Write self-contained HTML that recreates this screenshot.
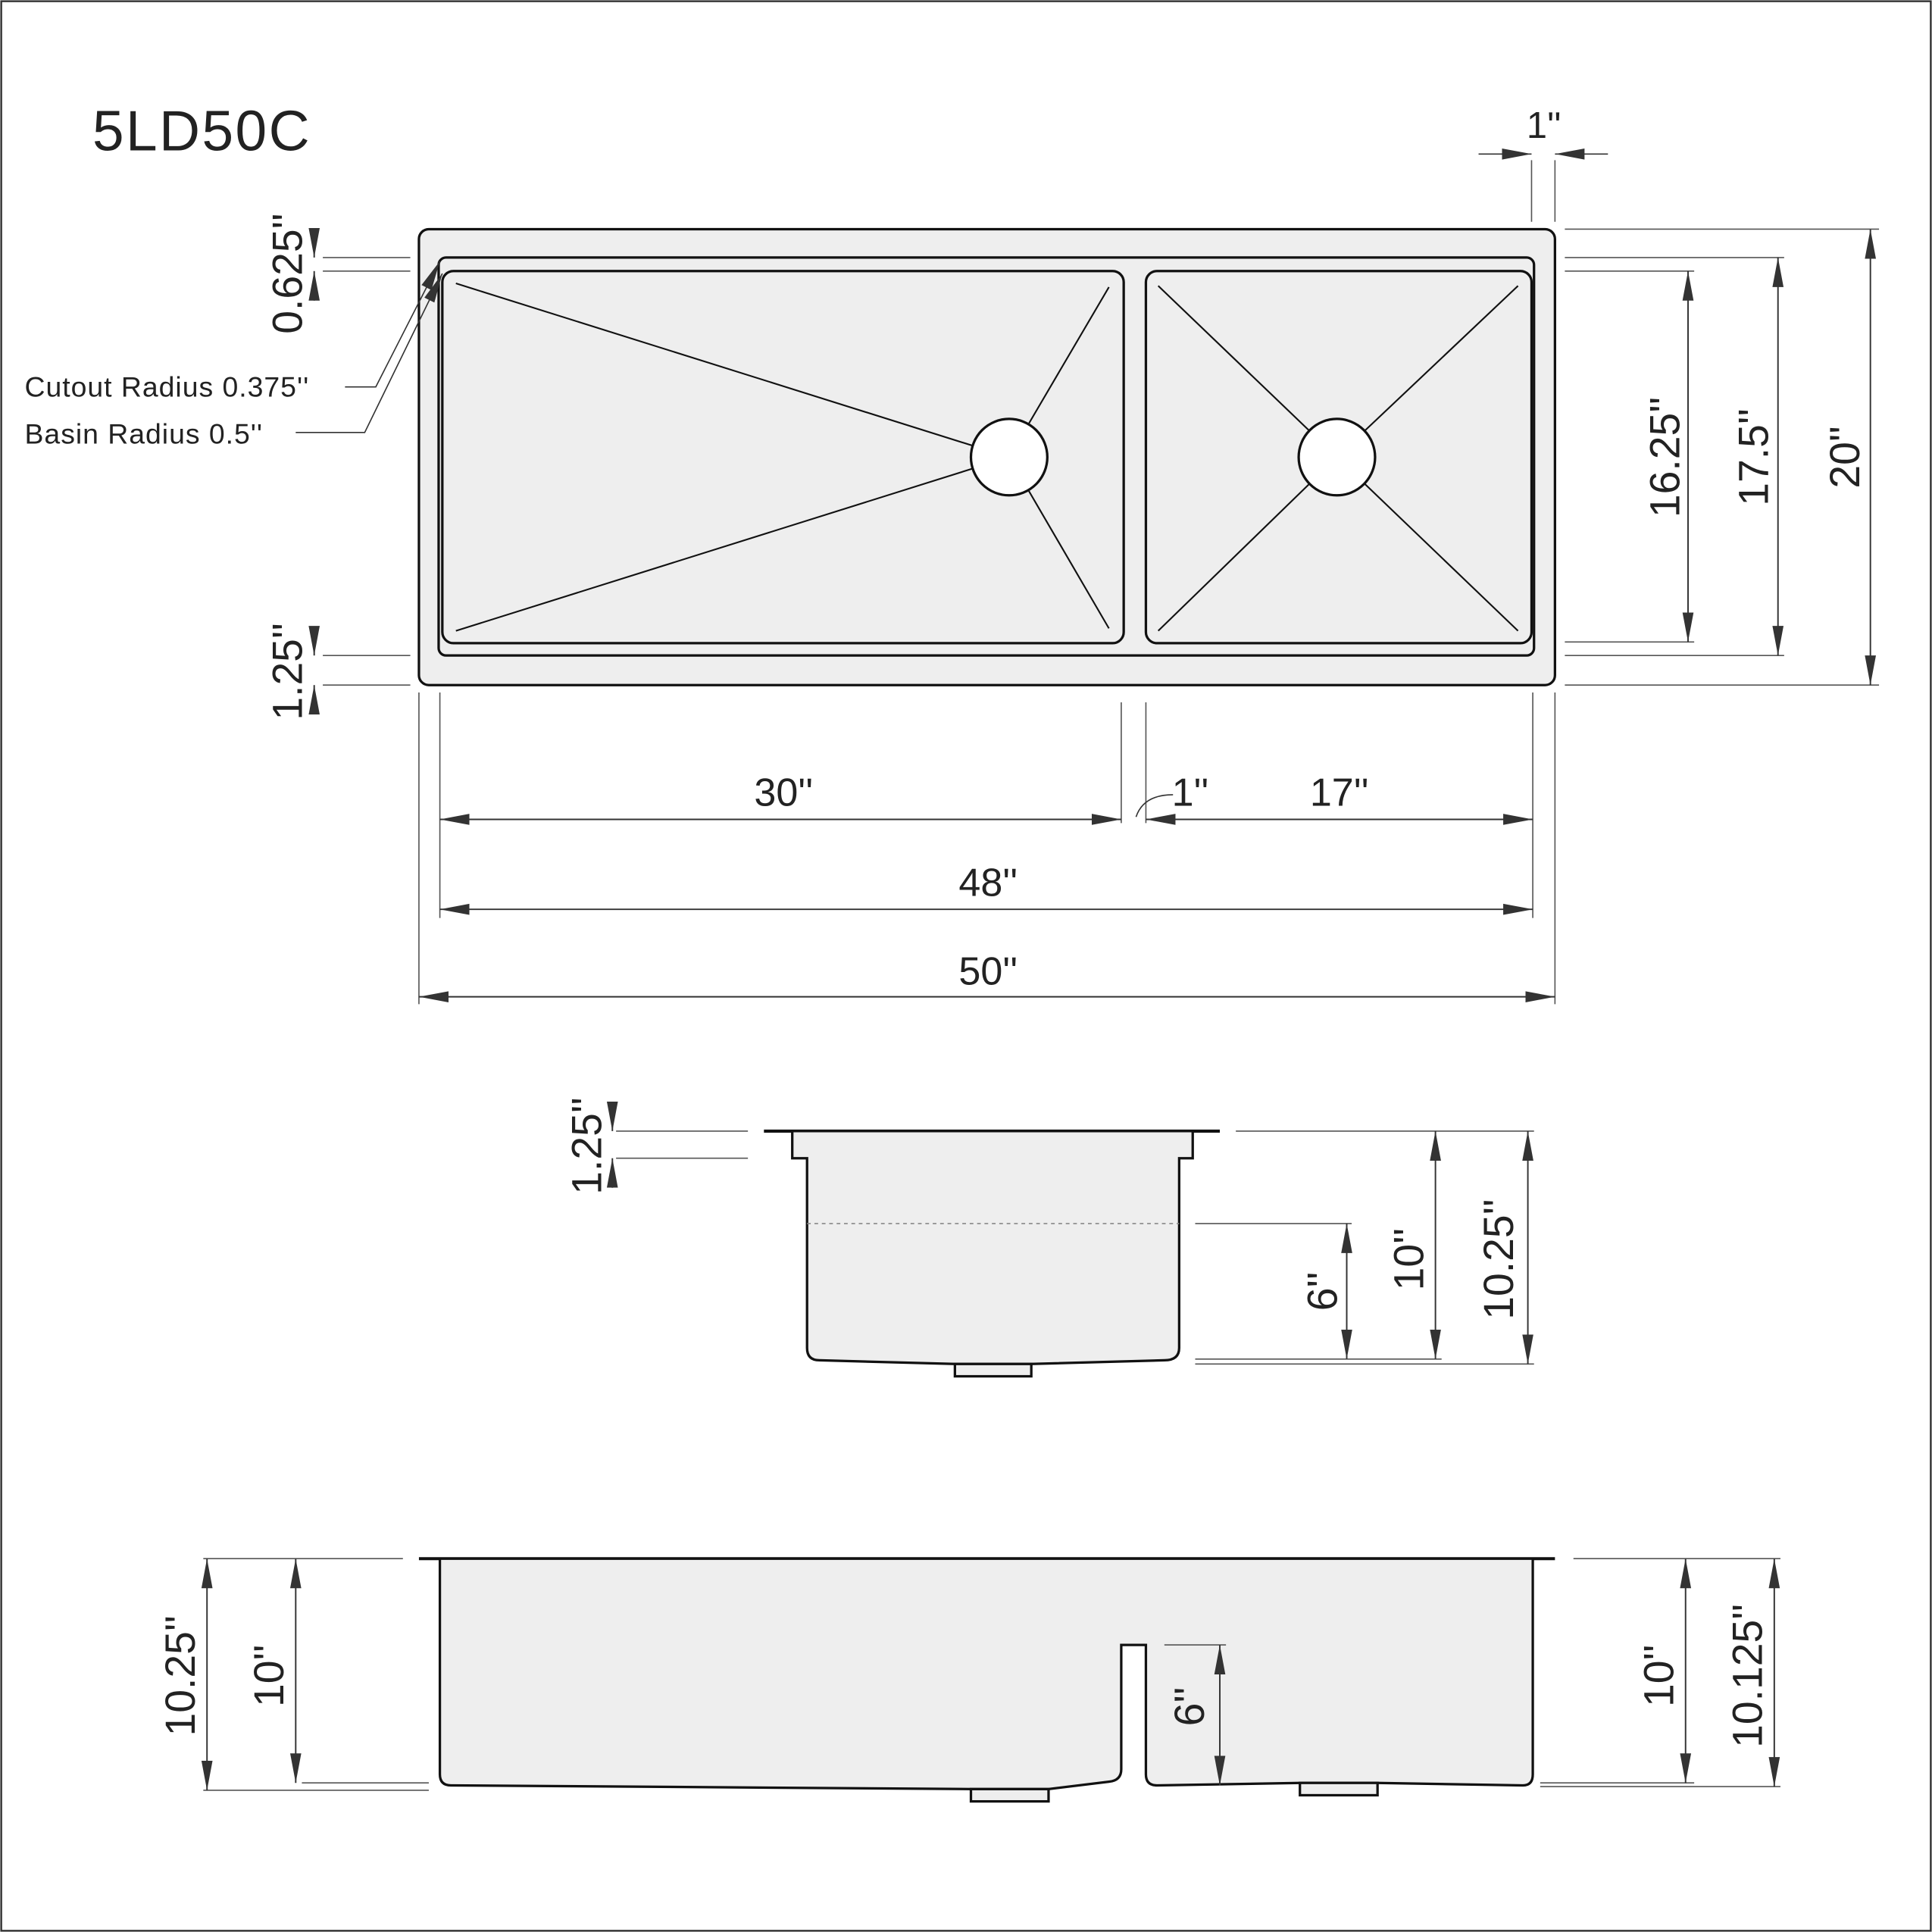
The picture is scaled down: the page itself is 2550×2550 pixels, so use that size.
<!DOCTYPE html>
<html><head><meta charset="utf-8"><style>
html,body{margin:0;padding:0;background:#fff;}
svg{display:block;}
text{font-family:"Liberation Sans","DejaVu Sans",sans-serif;fill:#222;}
</style></head><body>
<svg width="2550" height="2550" viewBox="0 0 1568 1568" xmlns="http://www.w3.org/2000/svg">
<defs>
<marker id="a" viewBox="0 0 24 10" refX="24" refY="5" markerWidth="24" markerHeight="10" markerUnits="userSpaceOnUse" orient="auto-start-reverse">
<path d="M0,0.5 L24,5 L0,9.5 Z" fill="#333"/>
</marker>
</defs>
<rect x="1" y="1" width="1566" height="1566" fill="none" stroke="#333" stroke-width="1.5"/>
<text x="75" y="122" font-size="46" letter-spacing="1.5">5LD50C</text>

<!-- TOP VIEW -->
<g stroke="#111" stroke-width="2" fill="#eee">
<rect x="340" y="186" width="922" height="370" rx="8"/>
<rect x="356" y="209" width="889" height="323" rx="6"/>
<rect x="359" y="220" width="553" height="302" rx="9"/>
<rect x="930" y="220" width="313" height="302" rx="9"/>
</g>
<g stroke="#111" stroke-width="1.3">
<line x1="370" y1="230" x2="819" y2="371"/>
<line x1="370" y1="512" x2="819" y2="371"/>
<line x1="900" y1="233" x2="819" y2="371"/>
<line x1="900" y1="510" x2="819" y2="371"/>
<line x1="940" y1="232" x2="1085" y2="371"/>
<line x1="1232" y1="232" x2="1085" y2="371"/>
<line x1="940" y1="512" x2="1085" y2="371"/>
<line x1="1232" y1="512" x2="1085" y2="371"/>
</g>
<circle cx="819" cy="371" r="31" fill="#fff" stroke="#111" stroke-width="2"/>
<circle cx="1085" cy="371" r="31" fill="#fff" stroke="#111" stroke-width="2"/>

<g stroke="#555" stroke-width="1" fill="none">
<line x1="1243" y1="130" x2="1243" y2="180"/>
<line x1="1262" y1="130" x2="1262" y2="180"/>
</g>
<line x1="1200" y1="125" x2="1243" y2="125" stroke="#333" marker-end="url(#a)"/>
<line x1="1305" y1="125" x2="1262" y2="125" stroke="#333" marker-end="url(#a)"/>
<text x="1253" y="112" font-size="30" text-anchor="middle">1''</text>

<g stroke="#555" stroke-width="1">
<line x1="1270" y1="186" x2="1525" y2="186"/>
<line x1="1270" y1="209" x2="1448" y2="209"/>
<line x1="1270" y1="220" x2="1375" y2="220"/>
<line x1="1270" y1="521" x2="1375" y2="521"/>
<line x1="1270" y1="532" x2="1448" y2="532"/>
<line x1="1270" y1="556" x2="1525" y2="556"/>
</g>
<g stroke="#333" stroke-width="1.2">
<line x1="1370" y1="220" x2="1370" y2="521" marker-start="url(#a)" marker-end="url(#a)"/>
<line x1="1443" y1="209" x2="1443" y2="532" marker-start="url(#a)" marker-end="url(#a)"/>
<line x1="1518" y1="186" x2="1518" y2="556" marker-start="url(#a)" marker-end="url(#a)"/>
</g>
<text transform="translate(1363,371) rotate(-90)" font-size="34" text-anchor="middle">16.25''</text>
<text transform="translate(1435,371) rotate(-90)" font-size="34" text-anchor="middle">17.5''</text>
<text transform="translate(1509,371) rotate(-90)" font-size="34" text-anchor="middle">20''</text>

<g stroke="#555" stroke-width="1">
<line x1="262" y1="209" x2="333" y2="209"/>
<line x1="262" y1="220" x2="333" y2="220"/>
<line x1="262" y1="532" x2="333" y2="532"/>
<line x1="262" y1="556" x2="333" y2="556"/>
</g>
<g stroke="#333" stroke-width="1.2">
<line x1="255" y1="186" x2="255" y2="209" marker-end="url(#a)"/>
<line x1="255" y1="244" x2="255" y2="220" marker-end="url(#a)"/>
<line x1="255" y1="509" x2="255" y2="532" marker-end="url(#a)"/>
<line x1="255" y1="579" x2="255" y2="556" marker-end="url(#a)"/>
</g>
<text transform="translate(245,222) rotate(-90)" font-size="34" text-anchor="middle">0.625''</text>
<text transform="translate(245,545) rotate(-90)" font-size="34" text-anchor="middle">1.25''</text>

<text x="20" y="322" font-size="23" letter-spacing="0.6">Cutout Radius 0.375''</text>
<text x="20" y="360" font-size="23" letter-spacing="0.6">Basin Radius 0.5''</text>
<polyline points="280,314 305,314 357,212" fill="none" stroke="#333" stroke-width="1" marker-end="url(#a)"/>
<polyline points="240,351 296,351 359,222" fill="none" stroke="#333" stroke-width="1" marker-end="url(#a)"/>

<g stroke="#555" stroke-width="1">
<line x1="340" y1="562" x2="340" y2="815"/>
<line x1="357" y1="562" x2="357" y2="745"/>
<line x1="910" y1="570" x2="910" y2="668"/>
<line x1="930" y1="570" x2="930" y2="668"/>
<line x1="1244" y1="562" x2="1244" y2="745"/>
<line x1="1262" y1="562" x2="1262" y2="815"/>
</g>
<g stroke="#333" stroke-width="1.2">
<line x1="357" y1="665" x2="910" y2="665" marker-start="url(#a)" marker-end="url(#a)"/>
<line x1="930" y1="665" x2="1244" y2="665" marker-start="url(#a)" marker-end="url(#a)"/>
<line x1="357" y1="738" x2="1244" y2="738" marker-start="url(#a)" marker-end="url(#a)"/>
<line x1="340" y1="809" x2="1262" y2="809" marker-start="url(#a)" marker-end="url(#a)"/>
</g>
<path d="M952,645 Q928,645 922,663" fill="none" stroke="#333" stroke-width="1"/>
<text x="636" y="654" font-size="32" text-anchor="middle">30''</text>
<text x="966" y="654" font-size="32" text-anchor="middle">1''</text>
<text x="1087" y="654" font-size="32" text-anchor="middle">17''</text>
<text x="802" y="727" font-size="32" text-anchor="middle">48''</text>
<text x="802" y="799" font-size="32" text-anchor="middle">50''</text>

<!-- SIDE VIEW 1 -->
<line x1="620" y1="918" x2="990" y2="918" stroke="#111" stroke-width="2.5"/>
<path d="M643,918 L643,940 L655,940 L655,1094 Q655,1104 665,1104 L775,1107 L837,1107 L945,1104 Q957,1104 957,1094 L957,940 L968,940 L968,918 Z" fill="#eee" stroke="#111" stroke-width="2"/>
<rect x="775" y="1107" width="62" height="10" fill="#eee" stroke="#111" stroke-width="2"/>
<line x1="655" y1="993" x2="957" y2="993" stroke="#888" stroke-width="1" stroke-dasharray="3,3"/>
<g stroke="#555" stroke-width="1">
<line x1="500" y1="918" x2="607" y2="918"/>
<line x1="500" y1="940" x2="607" y2="940"/>
<line x1="1003" y1="918" x2="1245" y2="918"/>
<line x1="970" y1="993" x2="1097" y2="993"/>
<line x1="970" y1="1103" x2="1170" y2="1103"/>
<line x1="970" y1="1107" x2="1245" y2="1107"/>
</g>
<g stroke="#333" stroke-width="1.2">
<line x1="497" y1="896" x2="497" y2="918" marker-end="url(#a)"/>
<line x1="497" y1="964" x2="497" y2="940" marker-end="url(#a)"/>
<line x1="1093" y1="993" x2="1093" y2="1103" marker-start="url(#a)" marker-end="url(#a)"/>
<line x1="1165" y1="918" x2="1165" y2="1103" marker-start="url(#a)" marker-end="url(#a)"/>
<line x1="1240" y1="918" x2="1240" y2="1107" marker-start="url(#a)" marker-end="url(#a)"/>
</g>
<text transform="translate(488,930) rotate(-90)" font-size="34" text-anchor="middle">1.25''</text>
<text transform="translate(1085,1048) rotate(-90)" font-size="34" text-anchor="middle">6''</text>
<text transform="translate(1155,1022) rotate(-90)" font-size="34" text-anchor="middle">10''</text>
<text transform="translate(1228,1022) rotate(-90)" font-size="34" text-anchor="middle">10.25''</text>

<!-- SIDE VIEW 2 -->
<line x1="340" y1="1265" x2="1262" y2="1265" stroke="#111" stroke-width="2.5"/>
<path d="M357,1265 L357,1440 Q357,1449 366,1449 L790,1452 L851,1452 L900,1446 Q910,1445 910,1436 L910,1335 L930,1335 L930,1440 Q930,1449 939,1449 L1055,1447 L1118,1447 L1236,1449 Q1244,1449 1244,1440 L1244,1265 Z" fill="#eee" stroke="#111" stroke-width="2"/>
<rect x="788" y="1452" width="63" height="10" fill="#eee" stroke="#111" stroke-width="2"/>
<rect x="1055" y="1447" width="63" height="10" fill="#eee" stroke="#111" stroke-width="2"/>
<g stroke="#555" stroke-width="1">
<line x1="165" y1="1265" x2="327" y2="1265"/>
<line x1="245" y1="1447" x2="348" y2="1447"/>
<line x1="165" y1="1453" x2="348" y2="1453"/>
<line x1="945" y1="1335" x2="995" y2="1335"/>
<line x1="1277" y1="1265" x2="1445" y2="1265"/>
<line x1="1250" y1="1447" x2="1375" y2="1447"/>
<line x1="1250" y1="1450" x2="1445" y2="1450"/>
</g>
<g stroke="#333" stroke-width="1.2">
<line x1="168" y1="1265" x2="168" y2="1453" marker-start="url(#a)" marker-end="url(#a)"/>
<line x1="240" y1="1265" x2="240" y2="1447" marker-start="url(#a)" marker-end="url(#a)"/>
<line x1="990" y1="1335" x2="990" y2="1449" marker-start="url(#a)" marker-end="url(#a)"/>
<line x1="1368" y1="1265" x2="1368" y2="1447" marker-start="url(#a)" marker-end="url(#a)"/>
<line x1="1440" y1="1265" x2="1440" y2="1450" marker-start="url(#a)" marker-end="url(#a)"/>
</g>
<text transform="translate(158,1360) rotate(-90)" font-size="34" text-anchor="middle">10.25''</text>
<text transform="translate(230,1360) rotate(-90)" font-size="34" text-anchor="middle">10''</text>
<text transform="translate(977,1385) rotate(-90)" font-size="34" text-anchor="middle">6''</text>
<text transform="translate(1358,1360) rotate(-90)" font-size="34" text-anchor="middle">10''</text>
<text transform="translate(1430,1360) rotate(-90)" font-size="34" text-anchor="middle">10.125''</text>
</svg>
</body></html>
